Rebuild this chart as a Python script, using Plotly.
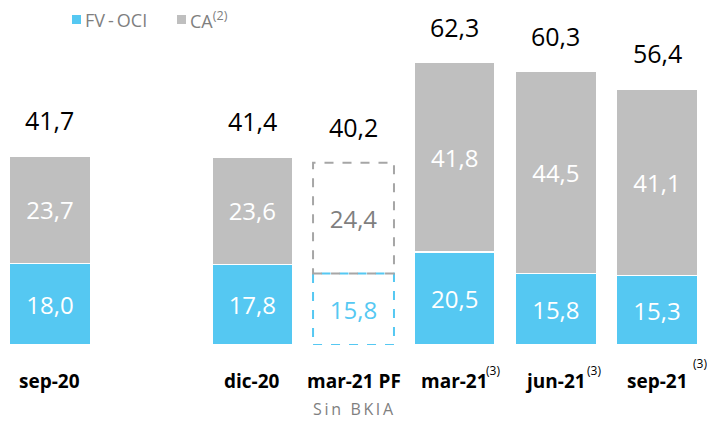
import plotly.graph_objects as go

categories = ["sep-20", "dic-20", "mar-21 PF", "mar-21", "jun-21", "sep-21"]
x_pos = [0, 2, 3, 4, 5, 6]
fv_oci = [18.0, 17.8, 15.8, 20.5, 15.8, 15.3]
ca = [23.7, 23.6, 24.4, 41.8, 44.5, 41.1]
totals = [41.7, 41.4, 40.2, 62.3, 60.3, 56.4]
footnotes = ["", "", "", "(3)", "(3)", "(3)"]
pro_forma = [False, False, True, False, False, False]
legend_labels = ["FV\u2009-\u2009OCI", "CA<sup>(2)</sup>"]

BLUE = "#55C8F2"
GRAY = "#BFBFBF"
TXTGRAY = "#7F7F7F"
FONT = "Open Sans"

W, H = 707, 414
ML, MR, MT, MB = 0, 0, 32, 77
PH = H - MT - MB


def fmt(v):
    return f"{v:.1f}".replace(".", ",")


def px(xp):
    return xp / W


def py(yp):
    # fig pixel from top -> paper y
    return 1 + (MT - yp) / PH


fill_b = ["rgba(0,0,0,0)" if p else BLUE for p in pro_forma]
fill_g = ["rgba(0,0,0,0)" if p else GRAY for p in pro_forma]
line_c = ["rgba(0,0,0,0)" if p else "white" for p in pro_forma]
txt_b = [BLUE if p else "white" for p in pro_forma]
txt_g = [TXTGRAY if p else "white" for p in pro_forma]

BW = 0.8
fig = go.Figure()
fig.add_trace(go.Bar(
    x=x_pos, y=fv_oci, name=legend_labels[0], width=BW,
    marker=dict(color=fill_b, line=dict(color=line_c, width=1.5)),
    text=[fmt(v) for v in fv_oci], textposition="inside", insidetextanchor="middle",
    textfont=dict(family=FONT, size=24, color=txt_b), textangle=0,
    hoverinfo="skip", showlegend=False,
))
fig.add_trace(go.Bar(
    x=x_pos, y=ca, name=legend_labels[1], width=BW,
    marker=dict(color=fill_g, line=dict(color=line_c, width=1.5)),
    text=[fmt(v) for v in ca], textposition="inside", insidetextanchor="middle",
    textfont=dict(family=FONT, size=24, color=txt_g), textangle=0,
    hoverinfo="skip", showlegend=False,
))

shapes = []
for xi, b, g, p in zip(x_pos, fv_oci, ca, pro_forma):
    if p:
        shapes.append(dict(type="rect", xref="x", yref="y", x0=xi - BW / 2, x1=xi + BW / 2,
                           y0=0, y1=b, line=dict(color=BLUE, width=2, dash="dash")))
        shapes.append(dict(type="rect", xref="x", yref="y", x0=xi - BW / 2, x1=xi + BW / 2,
                           y0=b, y1=b + g, line=dict(color="#A6A6A6", width=2, dash="dash")))

# manual legend (squares + labels)
legend_items = [(legend_labels[0], BLUE, 64), (legend_labels[1], GRAY, 169)]
annotations = []
for label, col, xl in legend_items:
    shapes.append(dict(type="rect", xref="paper", yref="paper",
                       x0=px(xl), x1=px(xl + 9), y0=py(7), y1=py(16),
                       fillcolor=col, line=dict(width=0)))
    annotations.append(dict(x=px(xl + 11), y=py(12), xref="paper", yref="paper", text=label,
                            showarrow=False, xanchor="left", yanchor="middle",
                            font=dict(family=FONT, size=18, color=TXTGRAY)))

for xi, t in zip(x_pos, totals):
    annotations.append(dict(x=xi, y=t, xref="x", yref="y", text=fmt(t), showarrow=False,
                            yanchor="middle", yshift=36,
                            font=dict(family=FONT, size=25, color="black")))

sup_shift = {"mar-21": (29, -25), "jun-21": (29, -25), "sep-21": (34, -18)}
for xi, c, f in zip(x_pos, categories, footnotes):
    annotations.append(dict(x=xi, y=0, xref="x", yref="y", text=f"<b>{c}</b>", showarrow=False,
                            yanchor="middle", yshift=-36,
                            font=dict(family=FONT, size=19, color="black")))
    if f:
        dx, dy = sup_shift.get(c, (29, -25))
        annotations.append(dict(x=xi, y=0, xref="x", yref="y", text=f, showarrow=False,
                                xanchor="left", yanchor="middle", xshift=dx, yshift=dy,
                                font=dict(family=FONT, size=12, color="black")))

sin_bkia = "\u2009".join("Sin") + "\u2009\u2009 " + "\u2009".join("BKIA")
annotations.append(dict(x=3, y=0, xref="x", yref="y", text=sin_bkia, showarrow=False,
                        yanchor="middle", yshift=-64,
                        font=dict(family=FONT, size=16, color=TXTGRAY)))

fig.update_layout(
    width=W, height=H,
    barmode="stack",
    paper_bgcolor="white", plot_bgcolor="white",
    margin=dict(l=ML, r=MR, t=MT, b=MB),
    xaxis=dict(range=[-0.415, 6.573], showticklabels=False, showgrid=False, zeroline=False,
               showline=False, fixedrange=True),
    yaxis=dict(range=[0, 67.3], showticklabels=False, showgrid=False, zeroline=False,
               showline=False, fixedrange=True),
    showlegend=False,
    shapes=shapes,
    annotations=annotations,
)

fig.write_html("out.html")
